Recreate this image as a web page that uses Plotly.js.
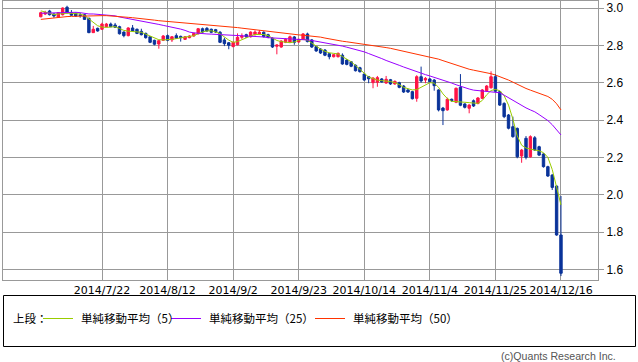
<!DOCTYPE html>
<html><head><meta charset="utf-8">
<script src="https://cdn.plot.ly/plotly-3.0.1.min.js"></script>
<style>html,body{margin:0;padding:0;background:#fff}#chart{width:638px;height:362px}</style>
</head><body><div id="chart"></div>
<script>
const dates = [
'2014/7/2','2014/7/3','2014/7/4','2014/7/7','2014/7/8','2014/7/9','2014/7/10','2014/7/11','2014/7/14','2014/7/15','2014/7/16','2014/7/17','2014/7/18','2014/7/21','2014/7/22','2014/7/23','2014/7/24','2014/7/25','2014/7/28','2014/7/29','2014/7/30','2014/7/31',
'2014/8/1','2014/8/4','2014/8/5','2014/8/6','2014/8/7','2014/8/8','2014/8/11','2014/8/12','2014/8/13','2014/8/14','2014/8/15','2014/8/18','2014/8/19','2014/8/20','2014/8/21','2014/8/22','2014/8/25','2014/8/26','2014/8/27','2014/8/28','2014/8/29',
'2014/9/1','2014/9/2','2014/9/3','2014/9/4','2014/9/5','2014/9/8','2014/9/9','2014/9/10','2014/9/11','2014/9/12','2014/9/15','2014/9/16','2014/9/17','2014/9/18','2014/9/19','2014/9/22','2014/9/23','2014/9/24','2014/9/25','2014/9/26','2014/9/29','2014/9/30',
'2014/10/1','2014/10/2','2014/10/3','2014/10/6','2014/10/7','2014/10/8','2014/10/9','2014/10/10','2014/10/13','2014/10/14','2014/10/15','2014/10/16','2014/10/17','2014/10/20','2014/10/21','2014/10/22','2014/10/23','2014/10/24','2014/10/27','2014/10/28','2014/10/29','2014/10/30','2014/10/31',
'2014/11/3','2014/11/4','2014/11/5','2014/11/6','2014/11/7','2014/11/10','2014/11/11','2014/11/12','2014/11/13','2014/11/14','2014/11/17','2014/11/18','2014/11/19','2014/11/20','2014/11/21','2014/11/24','2014/11/25','2014/11/26','2014/11/27','2014/11/28',
'2014/12/1','2014/12/2','2014/12/3','2014/12/4','2014/12/5','2014/12/8','2014/12/9','2014/12/10','2014/12/11','2014/12/12','2014/12/15','2014/12/16'];

const open = [2.953,2.968,2.984,2.968,2.950,2.964,3.004,2.975,2.972,2.963, 2.964,2.945,2.868,2.891,2.886,2.900,2.914,2.909,2.900,2.871, 2.852,2.893,2.886,2.875,2.864,2.846,2.827,2.807,2.827,2.852, 2.829,2.852,2.848,2.832,2.841,2.850,2.862,2.889,2.891,2.886, 2.884,2.870,2.829,2.814,2.793,2.803,2.843,2.857,2.846,2.857, 2.859,2.870,2.857,2.838,2.795,2.791,2.816,2.818,2.845,2.818, 2.832,2.861,2.829,2.793,2.780,2.775,2.755,2.739,2.739,2.747, 2.721,2.712,2.693,2.680,2.646,2.632,2.600,2.602,2.620,2.598, 2.616,2.593,2.600,2.582,2.561,2.552,2.516,2.632,2.614,2.620, 2.614,2.561,2.464,2.454,2.511,2.495,2.575,2.486,2.463,2.503, 2.489,2.516,2.557,2.573,2.632,2.552,2.489,2.427,2.364,2.355, 2.207,2.302,2.203,2.305,2.257,2.218,2.150,2.105,2.046,1.784];
const high = [2.980,2.985,2.990,2.972,2.978,3.003,3.012,2.989,2.976,2.975, 2.968,2.948,2.904,2.895,2.921,2.920,2.922,2.920,2.905,2.875, 2.897,2.909,2.890,2.889,2.868,2.850,2.830,2.829,2.855,2.858, 2.850,2.864,2.852,2.850,2.854,2.868,2.893,2.895,2.898,2.890, 2.888,2.877,2.841,2.818,2.820,2.864,2.864,2.862,2.875,2.880, 2.882,2.875,2.862,2.843,2.805,2.827,2.838,2.852,2.850,2.836, 2.866,2.868,2.834,2.797,2.785,2.780,2.760,2.754,2.762,2.757, 2.726,2.716,2.698,2.685,2.650,2.636,2.629,2.636,2.625,2.636, 2.620,2.612,2.605,2.587,2.566,2.556,2.640,2.686,2.630,2.625, 2.620,2.565,2.470,2.520,2.515,2.574,2.646,2.490,2.485,2.510, 2.523,2.566,2.587,2.661,2.646,2.556,2.495,2.432,2.418,2.360, 2.245,2.314,2.318,2.314,2.262,2.222,2.155,2.110,2.050,1.993];
const low = [2.950,2.962,2.960,2.948,2.948,2.960,2.970,2.957,2.952,2.948, 2.936,2.865,2.866,2.873,2.883,2.897,2.897,2.894,2.858,2.843, 2.848,2.872,2.860,2.853,2.836,2.812,2.800,2.782,2.823,2.822, 2.818,2.834,2.820,2.829,2.838,2.846,2.858,2.867,2.872,2.865, 2.866,2.812,2.796,2.779,2.790,2.800,2.832,2.840,2.842,2.853, 2.855,2.842,2.838,2.786,2.752,2.787,2.812,2.814,2.803,2.814, 2.828,2.816,2.786,2.765,2.754,2.742,2.725,2.735,2.735,2.696, 2.693,2.683,2.660,2.654,2.610,2.597,2.570,2.578,2.600,2.594, 2.588,2.589,2.570,2.545,2.545,2.510,2.498,2.600,2.597,2.600, 2.557,2.446,2.373,2.450,2.498,2.490,2.474,2.462,2.436,2.470, 2.484,2.512,2.553,2.568,2.550,2.475,2.410,2.350,2.305,2.195, 2.171,2.189,2.198,2.234,2.207,2.145,2.095,2.025,1.780,1.564];
const close = [2.975,2.976,2.964,2.957,2.975,3.000,2.975,2.961,2.957,2.960, 2.939,2.868,2.886,2.877,2.914,2.914,2.900,2.897,2.862,2.852, 2.893,2.877,2.864,2.857,2.841,2.816,2.806,2.825,2.850,2.827, 2.846,2.838,2.841,2.846,2.850,2.864,2.889,2.871,2.877,2.870, 2.871,2.816,2.809,2.800,2.816,2.843,2.850,2.845,2.871,2.871, 2.870,2.846,2.843,2.791,2.802,2.823,2.832,2.846,2.816,2.832, 2.861,2.820,2.791,2.770,2.759,2.747,2.739,2.750,2.757,2.700, 2.698,2.688,2.664,2.659,2.614,2.621,2.625,2.627,2.604,2.618, 2.593,2.607,2.575,2.550,2.550,2.514,2.632,2.609,2.623,2.605, 2.584,2.454,2.450,2.511,2.503,2.570,2.479,2.468,2.480,2.475, 2.518,2.561,2.582,2.632,2.554,2.480,2.418,2.356,2.311,2.203, 2.239,2.200,2.311,2.239,2.212,2.150,2.100,2.039,1.784,1.579];

const sma5 = [2.985,2.978,2.972,2.965,2.968,2.972,2.972,2.971,2.970,2.968, 2.960,2.940,2.920,2.905,2.898,2.896,2.898,2.900,2.890,2.880, 2.876,2.873,2.871,2.870,2.860,2.850,2.838,2.830,2.829,2.829, 2.832,2.836,2.840,2.841,2.845,2.852,2.862,2.872,2.877,2.878, 2.872,2.862,2.845,2.828,2.816,2.820,2.830,2.842,2.850,2.858, 2.860,2.858,2.852,2.840,2.826,2.820,2.815,2.814,2.818,2.828, 2.832,2.828,2.812,2.795,2.780,2.768,2.760,2.757,2.754,2.740, 2.726,2.712,2.692,2.672,2.652,2.630,2.622,2.614,2.611,2.609, 2.606,2.600,2.590,2.575,2.566,2.561,2.563,2.575,2.590,2.600, 2.598,2.575,2.540,2.515,2.500,2.497,2.496,2.495,2.493,2.490, 2.489,2.505,2.535,2.558,2.564,2.557,2.530,2.480,2.405,2.315, 2.265,2.250,2.243,2.239,2.235,2.225,2.200,2.135,2.040,1.945];
const sma25 = [2.972,2.973,2.974,2.975,2.976,2.977,2.977,2.977,2.977,2.975, 2.970,2.968,2.968,2.966,2.963,2.962,2.962,2.958,2.952,2.948, 2.942,2.937,2.933,2.929,2.925,2.921,2.916,2.912,2.907,2.903, 2.899,2.893,2.887,2.880,2.871,2.867,2.864,2.862,2.861,2.860, 2.859,2.857,2.855,2.854,2.853,2.852,2.852,2.851,2.849,2.848, 2.847,2.845,2.841,2.840,2.838,2.837,2.835,2.834,2.833,2.832, 2.830,2.829,2.826,2.822,2.819,2.816,2.812,2.807,2.802,2.796, 2.790,2.784,2.778,2.773,2.765,2.756,2.748,2.739,2.729,2.719, 2.709,2.700,2.693,2.684,2.675,2.666,2.658,2.650,2.643,2.636, 2.629,2.621,2.614,2.606,2.598,2.589,2.580,2.573,2.566,2.560, 2.557,2.554,2.552,2.550,2.549,2.546,2.533,2.519,2.508,2.495, 2.477,2.465,2.454,2.444,2.429,2.413,2.397,2.375,2.349,2.320];
const sma50 = [2.939,2.942,2.945,2.947,2.951,2.953,2.954,2.955,2.956,2.957, 2.957,2.958,2.958,2.959,2.959,2.959,2.958,2.957,2.955,2.952, 2.950,2.948,2.946,2.943,2.941,2.938,2.935,2.932,2.930,2.928, 2.926,2.923,2.921,2.920,2.918,2.917,2.916,2.914,2.912,2.910, 2.907,2.905,2.903,2.900,2.898,2.895,2.892,2.889,2.886,2.882, 2.879,2.876,2.874,2.871,2.869,2.866,2.864,2.861,2.858,2.856, 2.854,2.852,2.850,2.848,2.844,2.839,2.834,2.830,2.826,2.822, 2.819,2.816,2.813,2.810,2.806,2.803,2.800,2.796,2.792,2.788, 2.784,2.779,2.775,2.770,2.765,2.760,2.755,2.750,2.745,2.739, 2.733,2.726,2.718,2.710,2.702,2.694,2.686,2.679,2.672,2.667, 2.663,2.659,2.654,2.648,2.641,2.633,2.624,2.614,2.603,2.591, 2.579,2.569,2.560,2.551,2.543,2.536,2.526,2.511,2.487,2.454];

const tickDates = ['2014/7/22','2014/8/12','2014/9/2','2014/9/23','2014/10/14','2014/11/4','2014/11/25','2014/12/16'];
const maNames = ['単純移動平均（5）','単純移動平均（25）','単純移動平均（50）'];
const maColors = ['#99cc00','#9900ff','#ff3300'];
const maSeries = [sma5, sma25, sma50];
const legendLabel = '上段：';
const credit = '(c)Quants Research Inc.';

const RED = '#ff1446', BLUE = '#0a3399', GRID = '#999999';
const W = 638, H = 362, ML = 3, MR = 40, MT = 1, MB = 82;
const PW = W - ML - MR, PH = H - MT - MB;
const px = x => (x - ML) / PW;
const py = y => (H - MB - y) / PH;

const traces = [{
  type: 'candlestick', x: dates, open: open, high: high, low: low, close: close,
  increasing: {line: {color: RED, width: 1}, fillcolor: RED},
  decreasing: {line: {color: BLUE, width: 1}, fillcolor: BLUE},
  whiskerwidth: 0, hoverinfo: 'skip', showlegend: false
}];
maSeries.forEach((s, k) => traces.push({
  type: 'scatter', mode: 'lines', x: dates, y: s, name: maNames[k],
  line: {color: maColors[k], width: 1}, hoverinfo: 'skip', showlegend: false
}));

const legendX = [[43, 73, 79], [171, 201, 207], [315, 345, 351]];
const legendFont = {family: 'Noto Sans CJK JP', size: 11.5, color: '#000'};
const shapes = [{type: 'rect', xref: 'paper', yref: 'paper', x0: px(3.5), x1: px(635.5), y0: py(346.5), y1: py(295.5),
  line: {color: '#000', width: 1}, fillcolor: 'rgba(0,0,0,0)'}];
const annotations = [{xref: 'paper', yref: 'paper', x: px(11), y: py(318), xanchor: 'left', yanchor: 'middle', showarrow: false,
  text: legendLabel, font: legendFont},
  {xref: 'paper', yref: 'paper', x: px(618), y: py(356), xanchor: 'right', yanchor: 'middle', showarrow: false,
  text: credit, font: {family: 'Liberation Sans', size: 10.6, color: '#555'}}];
maNames.forEach((n, k) => {
  shapes.push({type: 'line', xref: 'paper', yref: 'paper', x0: px(legendX[k][0]), x1: px(legendX[k][1]), y0: py(318.5), y1: py(318.5),
    line: {color: maColors[k], width: 1}});
  annotations.push({xref: 'paper', yref: 'paper', x: px(legendX[k][2]), y: py(318), xanchor: 'left', yanchor: 'middle', showarrow: false,
    text: n, font: legendFont});
});

const layout = {
  width: W, height: H, margin: {l: ML, r: MR, t: MT, b: MB, pad: 0},
  paper_bgcolor: '#fff', plot_bgcolor: '#fff', showlegend: false,
  boxgap: 0.45, boxgroupgap: 0,
  xaxis: {type: 'category', categoryorder: 'array', categoryarray: dates, range: [-8.65, 127.47],
    tickmode: 'array', tickvals: tickDates, ticktext: tickDates,
    showgrid: true, gridcolor: GRID, gridwidth: 1, showline: true, linecolor: GRID, linewidth: 1, mirror: true,
    ticks: '', tickfont: {family: 'DejaVu Sans', size: 11, color: '#000'}, rangeslider: {visible: false}, fixedrange: true},
  yaxis: {side: 'right', range: [1.543, 3.0375], dtick: 0.2, tick0: 0, tickformat: '.1f',
    showgrid: true, gridcolor: GRID, gridwidth: 1, zeroline: false, showline: true, linecolor: GRID, linewidth: 1, mirror: true,
    ticks: 'outside', ticklen: 5, tickcolor: GRID, tickfont: {family: 'Liberation Sans', size: 12, color: '#000'}, fixedrange: true},
  shapes: shapes, annotations: annotations
};
Plotly.newPlot('chart', traces, layout, {displayModeBar: false, staticPlot: true});
</script>
</body></html>
